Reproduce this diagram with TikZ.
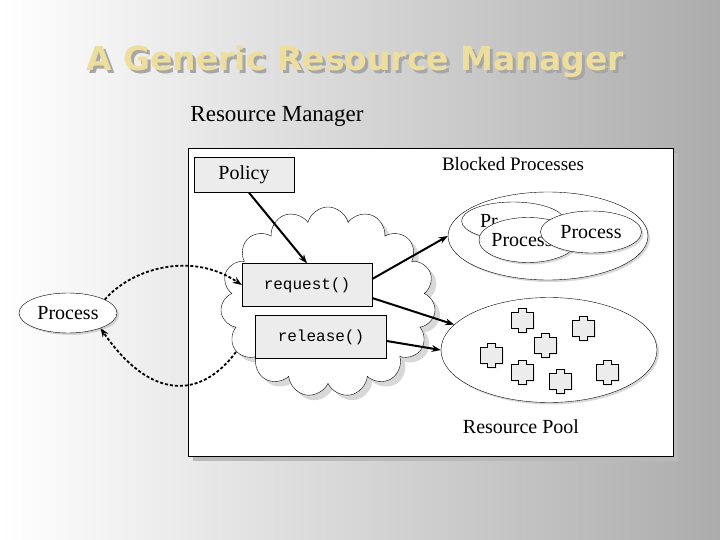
\documentclass[tikz,border=0pt]{standalone}
\usepackage{fontspec}
\setmainfont{Liberation Serif}
\setmonofont{Liberation Mono}
\newfontfamily\titlefont{DejaVu Sans}
\usetikzlibrary{shapes.symbols,shapes.geometric,shadows,arrows.meta}
\definecolor{titletan}{rgb}{0.93,0.87,0.62}
\tikzset{
  boxed/.style={draw, fill=gray!15, inner sep=0pt},
  blob/.style={draw, ellipse, fill=white, drop shadow={fill=gray!60, shadow xshift=2pt, shadow yshift=-2pt}},
  link/.style={-{Stealth[length=9pt]}, line width=2pt},
  call/.style={-{Stealth[length=9pt]}, line width=1.8pt, dash pattern=on 3pt off 2pt}
}
\begin{document}
\begin{tikzpicture}[x=1pt, y=-1pt]
    \useasboundingbox (0,0) rectangle (720,540);
    % Background
    \shade[left color=white, right color=gray!65] (0,0) rectangle (720,540);
    \node[text=gray!70, font=\titlefont\bfseries\fontsize{33}{33}\selectfont] (shadowtitle) at (358,65) {A Generic Resource Manager};
    \node[text=titletan, font=\titlefont\bfseries\fontsize{33}{33}\selectfont] (title) at (355,62) {A Generic Resource Manager};
    \node[font=\fontsize{23}{23}\selectfont] (rm) at (277,116) {Resource Manager};

    % Manager frame
    \fill[gray!55] (193,153) rectangle (678,461);
    \draw[fill=white] (188,148) rectangle (673,456);

    % Policy and cloud
    \node[boxed, minimum width=100pt, minimum height=35pt, font=\fontsize{20}{20}\selectfont] (policy) at (244,175) {Policy};
    \node[cloud, cloud puffs=15, cloud ignores aspect, draw, fill=white, minimum width=215pt, minimum height=190pt,
          drop shadow={fill=gray!60, shadow xshift=5pt, shadow yshift=-5pt}] (cloud) at (328,302) {};
    \node[boxed, minimum width=130pt, minimum height=43pt, font=\ttfamily\fontsize{16}{16}\selectfont] (req) at (307,285) {request()};
    \node[boxed, minimum width=131pt, minimum height=43pt, font=\ttfamily\fontsize{16}{16}\selectfont] (rel) at (321,337) {release()};

    % Blocked processes
    \node[font=\fontsize{19}{19}\selectfont] (blocked) at (513,164) {Blocked Processes};
    \node[blob, minimum width=200pt, minimum height=88pt] (queue) at (548,236) {};
    \node[blob, minimum width=98pt, minimum height=38pt, text width=66pt, align=left, font=\fontsize{20}{20}\selectfont] (pa) at (513,221) {Pr};
    \node[blob, minimum width=98pt, minimum height=45pt, font=\fontsize{20}{20}\selectfont] (pb) at (528,240) {\hspace*{-12pt}Process};
    \node[blob, minimum width=101pt, minimum height=42pt, font=\fontsize{20}{20}\selectfont] (pc) at (591,232) {Process};

    % Resource pool
    \node[blob, minimum width=216pt, minimum height=105pt] (pool) at (549,350) {};
    \foreach \px/\py in {522/320, 583/328, 545/345, 491/355, 522/372, 560/381, 607/372} {
        \draw[fill=gray!15, drop shadow={fill=gray!50, shadow xshift=1.5pt, shadow yshift=-1.5pt}]
          (\px-4,\py-12) -- (\px+4,\py-12) -- (\px+4,\py-8) -- (\px+11,\py-8) -- (\px+11,\py+8) -- (\px+4,\py+8)
          -- (\px+4,\py+12) -- (\px-4,\py+12) -- (\px-4,\py+8) -- (\px-11,\py+8) -- (\px-11,\py-8) -- (\px-4,\py-8) -- cycle;
    }
    \node[font=\fontsize{20}{20}\selectfont] (poollabel) at (521,427) {Resource Pool};

    % Client process
    \node[blob, minimum width=98pt, minimum height=40pt, font=\fontsize{20}{20}\selectfont] (client) at (68,313) {Process};

    % Connectors
    \draw[link] (policy.south) ++(5,0) coordinate (pol) -- (req.north);
    \draw[link] (req.east) ++(0,-6) coordinate (r1) -- (queue.west);
    \draw[link] (req.east) ++(0,13) coordinate (r2) -- (pool.165);
    \draw[link] (rel.east) ++(0,4) coordinate (r3) -- (pool.west);
    \draw[call] (client.20) .. controls (130,270) and (190,250) .. (req.180);
    \coordinate (back) at (236,352);
    \draw[call] (back) .. controls (200,400) and (150,400) .. (client.-25);
\end{tikzpicture}
\end{document}
